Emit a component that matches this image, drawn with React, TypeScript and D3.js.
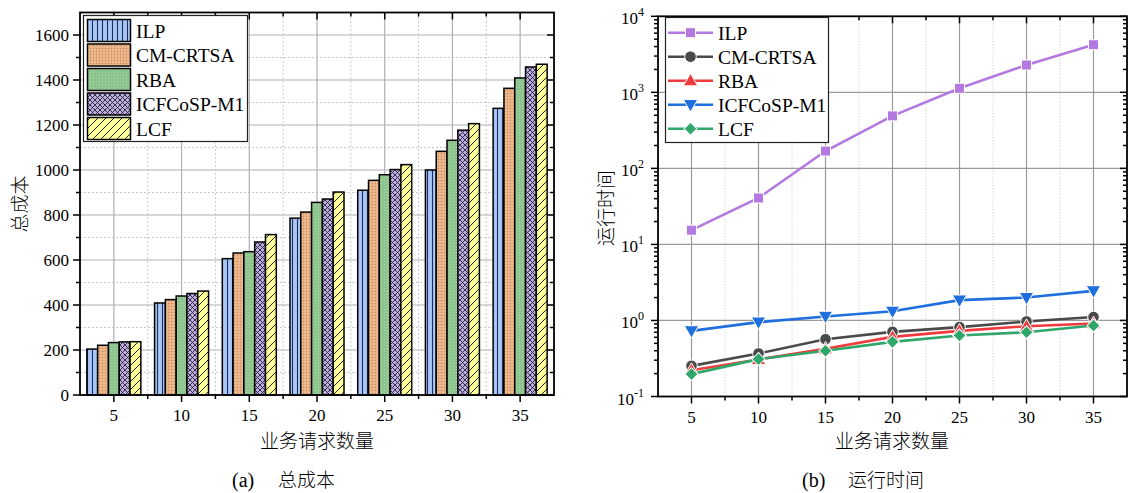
import React from "react";
import * as d3 from "d3";

// 数据
const counts = [5, 10, 15, 20, 25, 30, 35];
const seriesNames = ["ILP", "CM-CRTSA", "RBA", "ICFCoSP-M1", "LCF"];

// 总成本
const costILP = [204, 409, 606, 786, 910, 1000, 1274];
const costCM = [221, 424, 631, 813, 954, 1083, 1363];
const costRBA = [233, 440, 637, 856, 979, 1132, 1409];
const costICF = [236, 451, 680, 871, 1002, 1177, 1458];
const costLCF = [237, 462, 713, 902, 1024, 1206, 1470];

// 运行时间
const timeILP = [15.4, 40.8, 169, 490, 1129, 2287, 4230];
const timeCM = [0.253, 0.368, 0.567, 0.708, 0.817, 0.97, 1.11];
const timeRBA = [0.222, 0.307, 0.424, 0.608, 0.73, 0.84, 0.91];
const timeICF = [0.73, 0.95, 1.13, 1.32, 1.85, 2.0, 2.45];
const timeLCF = [0.197, 0.31, 0.4, 0.523, 0.634, 0.7, 0.86];

const costTicks = [0, 200, 400, 600, 800, 1000, 1200, 1400, 1600];
const timeTicks = [0.1, 1, 10, 100, 1000, 10000];
const timeExp = ["-1", "0", "1", "2", "3", "4"];

const costData = [costILP, costCM, costRBA, costICF, costLCF];
const timeData = [timeILP, timeCM, timeRBA, timeICF, timeLCF];
const patternIds = ["pILP", "pCM", "pRBA", "pICF", "pLCF"];
const lineColors = ["#b479e0", "#4a4a4a", "#f03a3c", "#1f6fde", "#2fa66a"];
const markerTypes = ["square", "circle", "triangle", "triangleDown", "diamond"];

const serif = "'Liberation Serif', 'Times New Roman', serif";
const cjk = "'Noto Sans CJK SC', sans-serif";

function Marker({ type, x, y, color }: { type: string; x: number; y: number; color: string }) {
  if (type === "square") {
    return <rect x={x - 5} y={y - 5} width={10} height={10} fill={color} stroke="white" strokeWidth={1} />;
  }
  if (type === "circle") {
    return <circle cx={x} cy={y} r={5.8} fill={color} stroke="white" strokeWidth={1} />;
  }
  if (type === "diamond") {
    return (
      <rect
        x={-4.6}
        y={-4.6}
        width={9.2}
        height={9.2}
        transform={`translate(${x},${y}) rotate(45)`}
        fill={color}
        stroke="white"
        strokeWidth={1}
      />
    );
  }
  const sym = d3.symbol().type(d3.symbolTriangle).size(90);
  const down = type === "triangleDown";
  return (
    <path
      d={sym() || ""}
      transform={`translate(${x},${y + (down ? -1 : 1)}) rotate(${down ? 180 : 0})`}
      fill={color}
      stroke="white"
      strokeWidth={1}
    />
  );
}

export default function App() {
  // 左图 (a)
  const lx0 = 80,
    lx1 = 554,
    ly0 = 395,
    ly1 = 12.5;
  const xL = d3.scaleLinear().domain([2.5, 37.5]).range([lx0, lx1]);
  const yL = d3.scaleLinear().domain([0, 1700]).range([ly0, ly1]);
  const inner = d3.scaleBand().domain(seriesNames).range([-27, 27]);

  // 右图 (b)
  const rx0 = 658,
    rx1 = 1127,
    ry0 = 396.5,
    ry1 = 16.3;
  const xR = d3.scaleLinear().domain([2.5, 37.5]).range([rx0, rx1]);
  const yR = d3.scaleLog().domain([0.1, 10000]).range([ry0, ry1]);

  const minorX = [7.5, 12.5, 17.5, 22.5, 27.5, 32.5];
  const costMinor = d3.range(100, 1700, 200);
  const logMinor: number[] = [];
  [0.1, 1, 10, 100, 1000].forEach((b) => {
    for (let k = 2; k <= 9; k++) logMinor.push(b * k);
  });

  const line = d3
    .line<number>()
    .x((d, i) => xR(counts[i]))
    .y((d) => yR(d));

  return (
    <svg
      width={1128}
      height={493}
      style={{ position: "absolute", left: 0, top: 0, background: "white" }}
    >
      <defs>
        <pattern id="pILP" width={5} height={5} patternUnits="userSpaceOnUse">
          <rect width={5} height={5} fill="#a9c7f5" />
          <line x1={2.5} x2={2.5} y1={0} y2={5} stroke="#1d2b5e" strokeWidth={1.1} />
        </pattern>
        <pattern id="pCM" width={3} height={3} patternUnits="userSpaceOnUse">
          <rect width={3} height={3} fill="#e9b286" />
          <rect x={0} y={0} width={1} height={1} fill="#c4875a" />
          <rect x={1.5} y={1.5} width={1} height={1} fill="#f3caa4" />
        </pattern>
        <pattern id="pRBA" width={3} height={3} patternUnits="userSpaceOnUse">
          <rect width={3} height={3} fill="#8ec48e" />
          <rect x={0} y={0} width={1} height={1} fill="#a9d6a6" />
        </pattern>
        <pattern id="pICF" width={5} height={5} patternUnits="userSpaceOnUse">
          <rect width={5} height={5} fill="#bcaedc" />
          <path d="M0,0L5,5M5,0L0,5" stroke="#2a2040" strokeWidth={0.9} />
        </pattern>
        <pattern id="pLCF" width={8} height={8} patternUnits="userSpaceOnUse">
          <rect width={8} height={8} fill="#ffff99" />
          <path d="M0,8L8,0M-2,2L2,-2M6,10L10,6" stroke="#222" strokeWidth={1} />
        </pattern>
      </defs>

      {/* ===== (a) 总成本 ===== */}
      <g>
        {/* 网格 */}
        {costMinor.map((v) => (
          <line key={"lmh" + v} x1={lx0} x2={lx1} y1={yL(v)} y2={yL(v)} stroke="#c8c8c8" strokeDasharray="2,2" />
        ))}
        {costTicks.slice(1).map((v) => (
          <line key={"lh" + v} x1={lx0} x2={lx1} y1={yL(v)} y2={yL(v)} stroke="#b0b0b0" strokeWidth={1.2} />
        ))}
        {minorX.map((v) => (
          <line key={"lmv" + v} x1={xL(v)} x2={xL(v)} y1={ly0} y2={ly1} stroke="#c8c8c8" strokeDasharray="2,2" />
        ))}
        {counts.map((v) => (
          <line key={"lv" + v} x1={xL(v)} x2={xL(v)} y1={ly0} y2={ly1} stroke="#b0b0b0" strokeWidth={1.2} />
        ))}

        {/* 柱 */}
        {costData.map((vals, s) =>
          vals.map((v, i) => (
            <rect
              key={s + "-" + i}
              x={xL(counts[i]) + (inner(seriesNames[s]) || 0)}
              y={yL(v)}
              width={inner.bandwidth()}
              height={yL(0) - yL(v)}
              fill={`url(#${patternIds[s]})`}
              stroke="black"
              strokeWidth={1.5}
            />
          ))
        )}

        {/* 坐标轴 */}
        <rect x={lx0} y={ly1} width={lx1 - lx0} height={ly0 - ly1} fill="none" stroke="black" strokeWidth={1.8} />
        {[...counts, ...minorX].map((v) => {
          const len = counts.includes(v) ? 7 : 4;
          return (
            <g key={"ltx" + v}>
              <line x1={xL(v)} x2={xL(v)} y1={ly0} y2={ly0 + len} stroke="black" strokeWidth={1.5} />
              <line x1={xL(v)} x2={xL(v)} y1={ly1} y2={ly1 + len} stroke="black" strokeWidth={1.5} />
            </g>
          );
        })}
        {[...costTicks, ...costMinor].map((v) => {
          const len = costTicks.includes(v) ? 7 : 4;
          return (
            <g key={"lty" + v}>
              <line x1={lx0 - len} x2={lx0} y1={yL(v)} y2={yL(v)} stroke="black" strokeWidth={1.5} />
              <line x1={lx1 - len} x2={lx1} y1={yL(v)} y2={yL(v)} stroke="black" strokeWidth={1.5} />
            </g>
          );
        })}
        {counts.map((v) => (
          <text key={"ltl" + v} x={xL(v)} y={421} textAnchor="middle" fontFamily={serif} fontSize={17}>
            {v}
          </text>
        ))}
        {costTicks.map((v) => (
          <text key={"lyl" + v} x={lx0 - 11} y={yL(v) + 6} textAnchor="end" fontFamily={serif} fontSize={17}>
            {v}
          </text>
        ))}
        <text
          transform={`translate(27,204) rotate(-90)`}
          textAnchor="middle"
          fontFamily={cjk}
          fontWeight={300}
          fontSize={19}
        >
          总成本
        </text>
        <text x={317} y={448} textAnchor="middle" fontFamily={cjk} fontWeight={300} fontSize={19}>
          业务请求数量
        </text>
        <text x={232} y={487} fontFamily={serif} fontSize={20}>
          (a)
        </text>
        <text x={278} y={487} fontFamily={cjk} fontWeight={300} fontSize={19}>
          总成本
        </text>

        {/* 图例 */}
        <rect x={83.5} y={15.5} width={164} height={126} fill="white" stroke="#222" strokeWidth={1.2} />
        {seriesNames.map((name, s) => (
          <g key={"ll" + name}>
            <rect
              x={87.5}
              y={19.5 + s * 24.5}
              width={43}
              height={22}
              fill={`url(#${patternIds[s]})`}
              stroke="black"
              strokeWidth={1.5}
            />
            <text x={136} y={37.5 + s * 24.5} fontFamily={serif} fontSize={19.5}>
              {name}
            </text>
          </g>
        ))}
      </g>

      {/* ===== (b) 运行时间 ===== */}
      <g>
        {minorX.map((v) => (
          <line key={"rmv" + v} x1={xR(v)} x2={xR(v)} y1={ry0} y2={ry1} stroke="#d6d6d6" strokeDasharray="1.5,1.5" />
        ))}
        {counts.map((v) => (
          <line key={"rv" + v} x1={xR(v)} x2={xR(v)} y1={ry0} y2={ry1} stroke="#9a9a9a" strokeWidth={1.2} />
        ))}
        {timeTicks.slice(1, -1).map((v) => (
          <line key={"rh" + v} x1={rx0} x2={rx1} y1={yR(v)} y2={yR(v)} stroke="#9a9a9a" strokeWidth={1.2} />
        ))}

        {/* 折线 */}
        {timeData.map((vals, s) => (
          <path key={"rl" + s} d={line(vals) || ""} fill="none" stroke={lineColors[s]} strokeWidth={2.6} />
        ))}
        {timeData.map((vals, s) =>
          vals.map((v, i) => (
            <Marker key={"rm" + s + "-" + i} type={markerTypes[s]} x={xR(counts[i])} y={yR(v)} color={lineColors[s]} />
          ))
        )}

        {/* 坐标轴 */}
        <rect x={rx0} y={ry1} width={rx1 - rx0} height={ry0 - ry1} fill="none" stroke="black" strokeWidth={1.8} />
        {[...counts, ...minorX].map((v) => {
          const len = counts.includes(v) ? 7 : 4;
          return (
            <g key={"rtx" + v}>
              <line x1={xR(v)} x2={xR(v)} y1={ry0} y2={ry0 + len} stroke="black" strokeWidth={1.5} />
              <line x1={xR(v)} x2={xR(v)} y1={ry1} y2={ry1 + len} stroke="black" strokeWidth={1.5} />
            </g>
          );
        })}
        {[...timeTicks, ...logMinor].map((v, i) => {
          const len = timeTicks.includes(v) ? 7 : 4;
          return (
            <g key={"rty" + i}>
              <line x1={rx0 - len} x2={rx0} y1={yR(v)} y2={yR(v)} stroke="black" strokeWidth={1.5} />
              <line x1={rx1 - len} x2={rx1} y1={yR(v)} y2={yR(v)} stroke="black" strokeWidth={1.5} />
            </g>
          );
        })}
        {counts.map((v) => (
          <text key={"rtl" + v} x={xR(v)} y={423} textAnchor="middle" fontFamily={serif} fontSize={17}>
            {v}
          </text>
        ))}
        {timeTicks.map((v, i) => (
          <text key={"ryl" + v} x={644} y={yR(v) + 8} textAnchor="end" fontFamily={serif} fontSize={17}>
            <tspan>10</tspan>
            <tspan dy={-8} fontSize={12}>
              {timeExp[i]}
            </tspan>
          </text>
        ))}
        <text
          transform={`translate(613,208) rotate(-90)`}
          textAnchor="middle"
          fontFamily={cjk}
          fontWeight={300}
          fontSize={19}
        >
          运行时间
        </text>
        <text x={892} y={448} textAnchor="middle" fontFamily={cjk} fontWeight={300} fontSize={19}>
          业务请求数量
        </text>
        <text x={802} y={487} fontFamily={serif} fontSize={20}>
          (b)
        </text>
        <text x={848} y={487} fontFamily={cjk} fontWeight={300} fontSize={19}>
          运行时间
        </text>

        {/* 图例 */}
        <rect x={665.5} y={17.5} width={163} height={125} fill="white" stroke="#222" strokeWidth={1.2} />
        {seriesNames.map((name, s) => {
          const cy = 32.7 + s * 24;
          return (
            <g key={"rlg" + name}>
              <line x1={668} x2={713} y1={cy} y2={cy} stroke={lineColors[s]} strokeWidth={2.6} />
              <Marker type={markerTypes[s]} x={690.5} y={cy} color={lineColors[s]} />
              <text x={718} y={cy + 7} fontFamily={serif} fontSize={19.5}>
                {name}
              </text>
            </g>
          );
        })}
      </g>
    </svg>
  );
}
